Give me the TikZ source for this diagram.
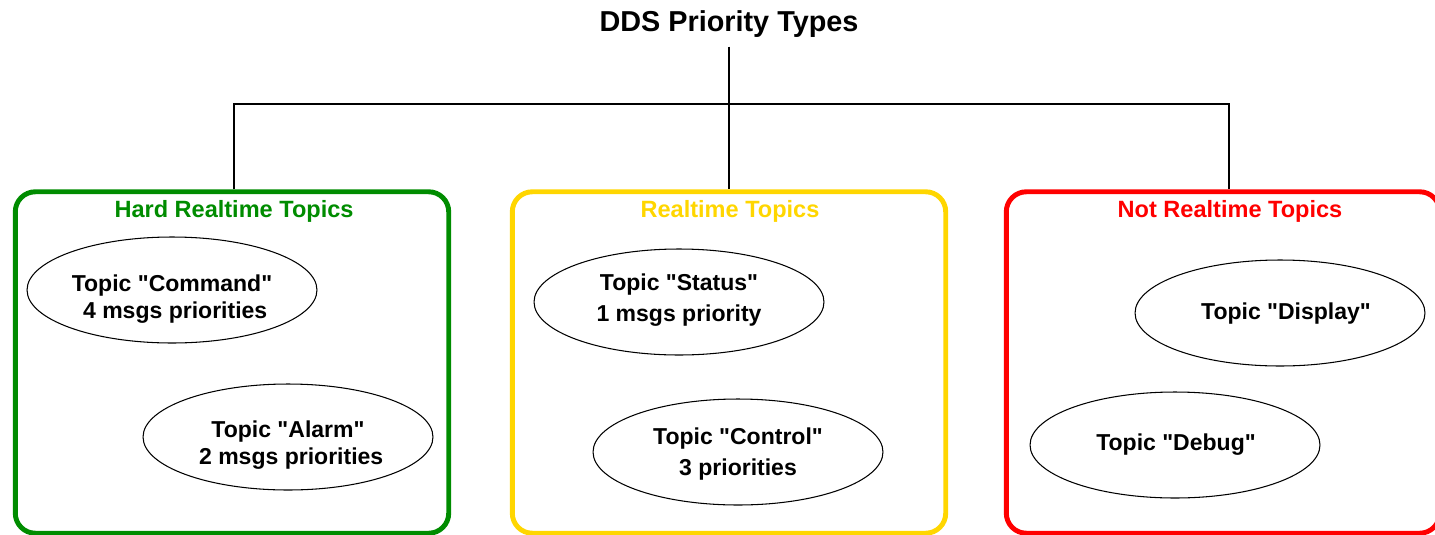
\documentclass[tikz,border=0pt]{standalone}
\usepackage{fontspec}
\setmainfont{Liberation Sans}
\usetikzlibrary{shapes.geometric}
\definecolor{hardgreen}{RGB}{0,140,0}
\definecolor{softyellow}{RGB}{255,214,0}
\definecolor{nonered}{RGB}{255,0,0}
\newcommand{\qt}{\textquotedbl}
\tikzset{
  group/.style={draw, line width=2.8pt, rounded corners=0.4cm, minimum width=8.67cm, minimum height=6.83cm, inner sep=0pt},
  grouptitle/.style={font=\fontsize{13.4}{16}\selectfont\bfseries},
  topic/.style={draw, ellipse, line width=0.6pt, minimum width=5.8cm, minimum height=2.12cm, inner sep=0pt},
  topictext/.style={align=center, inner sep=0pt, font=\fontsize{13.1}{15.6}\selectfont\bfseries},
  link/.style={draw, line width=0.6pt}
}
\begin{document}
\begin{tikzpicture}[x=0.02cm, y=-0.02cm]
    \clip (0,0) rectangle (1435,534);
    \node[font=\fontsize{16.4}{20}\selectfont\bfseries] (title) at (729,24) {DDS Priority Types} ;
    % the three groups
    \node[group, hardgreen] (hard) at (232,362.5) {} ;
    \node[group, softyellow] (soft) at (729,362.5) {} ;
    \node[group, nonered] (none) at (1223,362.5) {} ;
    \node[grouptitle, text=hardgreen] (hardtitle) at (234,211) {Hard Realtime Topics} ;
    \node[grouptitle, text=softyellow] (softtitle) at (730,211) {Realtime Topics} ;
    \node[grouptitle, text=nonered] (nonetitle) at (1230,211) {Not Realtime Topics} ;
    % topics
    \node[topic] (command) at (172,290) {} ;
    \node[topic] (alarm) at (288,437) {} ;
    \node[topic] (status) at (679,302) {} ;
    \node[topic] (control) at (738,452) {} ;
    \node[topic] (display) at (1280,313) {} ;
    \node[topic] (debug) at (1175,445) {} ;
    \node[topictext] (commandtext) at ([shift={(0,9)}]command) {Topic \qt Command\qt\\\ 4 msgs priorities} ;
    \node[topictext] (alarmtext) at ([shift={(0,8)}]alarm) {Topic \qt Alarm\qt\\\ 2 msgs priorities} ;
    \node[topictext] (statustext) at ([shift={(0,-2)}]status) {Topic \qt Status\qt\\[2pt]1 msgs priority} ;
    \node[topictext] (controltext) at ([shift={(0,2)}]control) {Topic \qt Control\qt\\[2pt]3 priorities} ;
    \node[topictext] (displaytext) at ([shift={(6,1)}]display) {Topic \qt Display\qt} ;
    \node[topictext] (debugtext) at ([shift={(1,0)}]debug) {Topic \qt Debug\qt} ;
    % connectors
    \coordinate (bar) at (729,104) ;
    \draw[link, shorten <=1.7pt] (title.south) -- (soft.north) ;
    \draw[link] ([shift={(2,0)}]hard.north) |- (bar) -| ([shift={(6,0)}]none.north) ;
  \end{tikzpicture}
\end{document}
